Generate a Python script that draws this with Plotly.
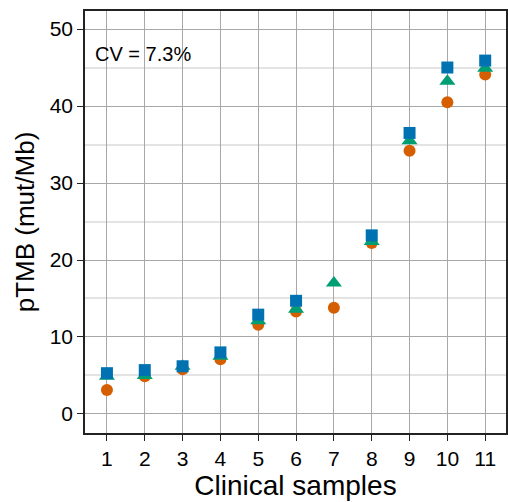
import plotly.graph_objects as go

samples = [1, 2, 3, 4, 5, 6, 7, 8, 9, 10, 11]
circle_vals = [3.1, 4.9, 5.8, 7.1, 11.6, 13.3, 13.8, 22.2, 34.2, 40.5, 44.1]
triangle_vals = [4.9, 5.0, 6.2, 7.5, 12.1, 13.6, 17.0, 22.4, 35.5, 43.2, 44.9]
square_vals = [5.3, 5.7, 6.2, 8.0, 12.9, 14.7, None, 23.2, 36.5, 45.0, 45.9]
x_tick_labels = [str(s) for s in samples]
y_tick_vals = [0, 10, 20, 30, 40, 50]

FONT = "Liberation Sans, Arial, Helvetica, sans-serif"

fig = go.Figure()
fig.add_trace(go.Scatter(x=samples, y=circle_vals, mode="markers",
                         marker=dict(symbol="circle", size=12, color="#D55E00"),
                         showlegend=False))
fig.add_trace(go.Scatter(x=samples, y=triangle_vals, mode="markers",
                         marker=dict(symbol="triangle-up", size=14, color="#009E73"),
                         showlegend=False))
fig.add_trace(go.Scatter(x=samples, y=square_vals, mode="markers",
                         marker=dict(symbol="square", size=12, color="#0072B2"),
                         showlegend=False))

fig.add_annotation(text="CV = 7.3%", xref="paper", yref="paper",
                   x=(93 - 85) / 423, y=(433 - 54) / 422,
                   xanchor="left", yanchor="middle", showarrow=False,
                   font=dict(family=FONT, size=20, color="black"))

fig.update_layout(
    width=508, height=502,
    margin=dict(l=85, r=0, t=11, b=69),
    plot_bgcolor="white", paper_bgcolor="white",
    font=dict(family=FONT, color="black"),
    xaxis=dict(
        range=[0.42, 11.55], tickmode="array", tickvals=samples, ticktext=x_tick_labels,
        showgrid=True, gridcolor="#a8a8a8", gridwidth=1,
        showline=True, linecolor="#222", linewidth=1.5, mirror=True,
        ticks="outside", ticklen=6, tickcolor="#222", tickwidth=1,
        tickfont=dict(size=21, family=FONT, color="black"),
        title=dict(text="Clinical samples", font=dict(size=28, family=FONT), standoff=4),
        zeroline=False,
    ),
    yaxis=dict(
        range=[-2.47, 52.34], tickmode="array", tickvals=y_tick_vals,
        showgrid=True, gridcolor="#a8a8a8", gridwidth=1,
        minor=dict(tickvals=[5, 15, 25, 35, 45], showgrid=True, gridcolor="#e3e3e3", gridwidth=1.5, ticks=""),
        showline=True, linecolor="#222", linewidth=1.5, mirror=True,
        ticks="outside", ticklen=6, tickcolor="#222", tickwidth=1,
        tickfont=dict(size=21, family=FONT, color="black"),
        title=dict(text="pTMB (mut/Mb)", font=dict(size=26, family=FONT), standoff=8),
        zeroline=False,
    ),
)

fig.write_html("out.html")
